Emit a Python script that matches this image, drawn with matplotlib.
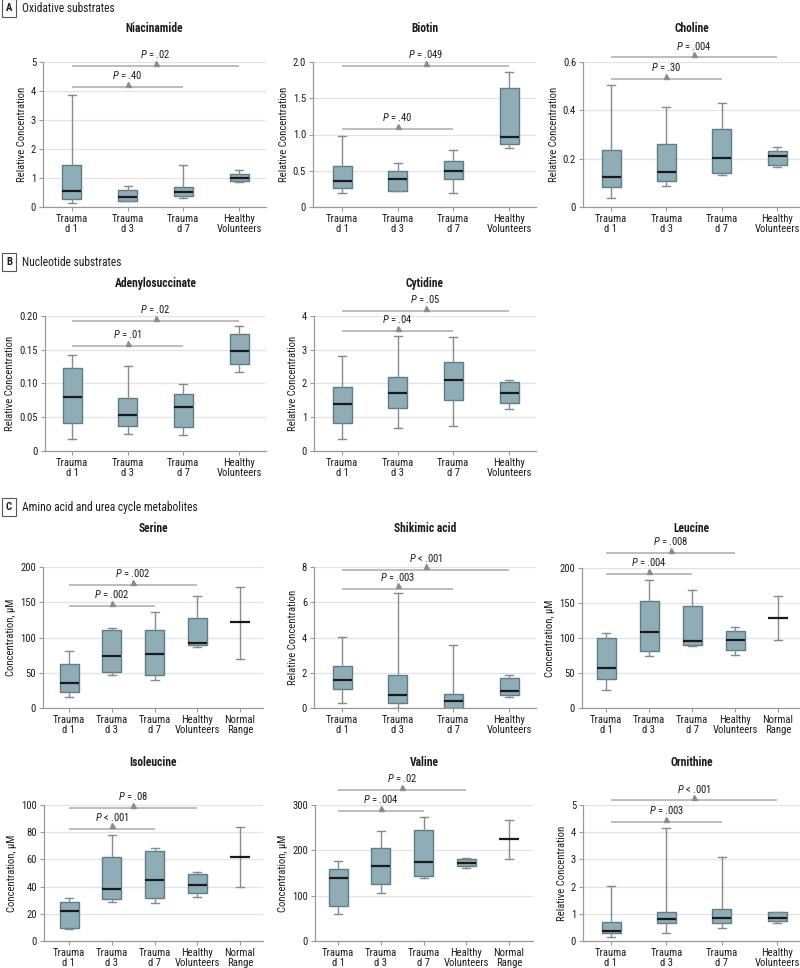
import matplotlib
matplotlib.use("Agg")
import matplotlib.pyplot as plt
from matplotlib import font_manager as fm
from matplotlib.transforms import ScaledTranslation

# --- data: [whisker low, q1, median, q3, whisker high] per group ---
groups4 = ["Trauma\nd 1", "Trauma\nd 3", "Trauma\nd 7", "Healthy\nVolunteers"]
groups5 = groups4 + ["Normal\nRange"]

niacinamide = [[0.13, 0.29, 0.55, 1.46, 3.86], [0.20, 0.22, 0.33, 0.59, 0.74],
               [0.30, 0.38, 0.52, 0.69, 1.45], [0.85, 0.91, 1.01, 1.15, 1.26]]
biotin = [[0.19, 0.26, 0.36, 0.57, 0.98], [0.22, 0.22, 0.38, 0.49, 0.61],
          [0.19, 0.39, 0.50, 0.63, 0.79], [0.82, 0.87, 0.97, 1.64, 1.86]]
choline = [[0.036, 0.081, 0.124, 0.236, 0.506], [0.086, 0.108, 0.146, 0.262, 0.414],
           [0.132, 0.142, 0.203, 0.324, 0.43], [0.164, 0.175, 0.212, 0.232, 0.248]]
adenylosuccinate = [[0.0173, 0.042, 0.0805, 0.123, 0.1427], [0.0257, 0.0375, 0.054, 0.078, 0.126],
                    [0.0232, 0.0356, 0.065, 0.084, 0.099], [0.1165, 0.129, 0.1486, 0.174, 0.1847]]
cytidine = [[0.36, 0.84, 1.39, 1.90, 2.80], [0.67, 1.26, 1.72, 2.18, 3.41],
            [0.74, 1.51, 2.09, 2.64, 3.39], [1.23, 1.42, 1.72, 2.04, 2.11]]
serine = [[15.6, 23.2, 35.9, 62.9, 80.9], [46.8, 50.6, 73.8, 110.2, 113.5],
          [39.7, 47.3, 76.6, 110.6, 136.2], [87.0, 89.4, 91.7, 128.1, 158.4]]
serine_normal = [69.5, 121.5, 171.6]
shikimic = [[0.26, 1.10, 1.60, 2.41, 4.03], [0.0, 0.30, 0.73, 1.87, 6.53],
            [0.0, 0.02, 0.37, 0.82, 3.60], [0.65, 0.76, 0.97, 1.70, 1.88]]
leucine = [[26.4, 41.7, 57.6, 99.3, 107.4], [74.8, 82.0, 108.9, 153.0, 182.3],
           [88.2, 90.6, 95.9, 145.3, 168.8], [75.3, 83.5, 97.4, 110.3, 115.1]]
leucine_normal = [96.9, 128.0, 159.7]
isoleucine = [[8.8, 9.5, 22.2, 28.9, 31.3], [28.9, 31.1, 38.1, 62.1, 78.0],
              [28.1, 31.8, 45.0, 66.3, 68.5], [32.5, 35.5, 41.3, 49.4, 50.4]]
isoleucine_normal = [39.9, 61.4, 83.6]
valine = [[58.8, 78.0, 138.2, 158.0, 176.5], [105.9, 126.5, 166.2, 205.1, 242.6],
          [139.7, 143.4, 174.3, 245.6, 273.5], [161.8, 164.7, 172.8, 180.9, 183.8]]
valine_normal = [180.1, 224.3, 266.2]
ornithine = [[0.16, 0.28, 0.36, 0.70, 2.01], [0.28, 0.65, 0.81, 1.07, 4.16],
             [0.49, 0.65, 0.84, 1.19, 3.09], [0.65, 0.73, 0.84, 1.07, 1.08]]

# P values: first bracket d1-d7, second bracket d1-healthy
niacinamide_p = ["= .40", "= .02"];   niacinamide_p_at = [4.14, 4.86]
biotin_p = ["= .40", "= .049"];       biotin_p_at = [1.076, 1.945]
choline_p = ["= .30", "= .004"];      choline_p_at = [0.53, 0.619]
adenylo_p = ["= .01", "= .02"];       adenylo_p_at = [0.156, 0.1926]
cytidine_p = ["= .04", "= .05"];      cytidine_p_at = [3.56, 4.15]
serine_p = ["= .002", "= .002"];      serine_p_at = [144.7, 174.5]
shikimic_p = ["= .003", "< .001"];    shikimic_p_at = [6.77, 7.85]
leucine_p = ["= .004", "= .008"];     leucine_p_at = [191.4, 221.6]
isoleucine_p = ["< .001", "= .08"];   isoleucine_p_at = [82.7, 98.0]
valine_p = ["= .004", "= .02"];       valine_p_at = [287.4, 333.0]
ornithine_p = ["= .003", "< .001"];   ornithine_p_at = [4.38, 5.17]

# --- fonts: prefer a narrow sans ---
ttf = fm.fontManager.ttflist
names = {f.name for f in ttf}
family, stretch, fs = None, "normal", 7.7
for cand in ["Roboto Condensed", "Liberation Sans Narrow", "Open Sans Condensed",
             "Noto Sans Condensed", "DejaVu Sans Condensed"]:
    if cand in names:
        family = cand
        break
if family is None:
    for base in ["Noto Sans", "DejaVu Sans", "Open Sans"]:
        if any(f.name == base and f.stretch in ("condensed", "semi-condensed") for f in ttf):
            family, stretch = base, "condensed"
            break
if family is None:
    family, fs = "Roboto", 7.0

plt.rcParams["font.family"] = [family, "DejaVu Sans"]
plt.rcParams["font.stretch"] = stretch
plt.rcParams["font.size"] = fs
plt.rcParams["mathtext.fontset"] = "custom"
plt.rcParams["mathtext.it"] = family + ":italic"
plt.rcParams["mathtext.rm"] = family

W, H = 800, 968
fig = plt.figure(figsize=(W / 100, H / 100), dpi=100)

BOX = "#8fadb7"
EDGE = "#5e7d88"
WHISK = "#8a8a8a"
BRACK = "#b8b8b8"
TXT = "#1c1c1c"


def panel(left, right, top, bottom, c0, sp, title, title_y, rows, normal,
          ticks, ticklabels, ylabel, plabels, plevels):
    ax = fig.add_axes([left / W, 1 - bottom / H, (right - left) / W, (bottom - top) / H])
    ax.set_xlim((left - c0) / sp, (right - c0) / sp)
    ax.set_ylim(ticks[0], ticks[-1])
    bw, cw = 19 / sp, 8 / sp
    stats = [dict(whislo=r[0], q1=r[1], med=r[2], q3=r[3], whishi=r[4]) for r in rows]
    ax.bxp(stats, positions=range(len(rows)), widths=bw, capwidths=cw,
           patch_artist=True, showfliers=False, manage_ticks=False,
           boxprops=dict(facecolor=BOX, edgecolor=EDGE, linewidth=1.0),
           medianprops=dict(color="#1a1a1a", linewidth=1.6),
           whiskerprops=dict(color=WHISK, linewidth=1.0),
           capprops=dict(color=WHISK, linewidth=1.0))
    labels = groups4
    if normal is not None:
        labels = groups5
        ns = [dict(whislo=normal[0], q1=normal[1], med=normal[1], q3=normal[1], whishi=normal[2])]
        ax.bxp(ns, positions=[4], widths=20 / sp, capwidths=cw, showbox=False,
               showfliers=False, manage_ticks=False,
               medianprops=dict(color="#1a1a1a", linewidth=1.6),
               whiskerprops=dict(color=WHISK, linewidth=1.0),
               capprops=dict(color=WHISK, linewidth=1.0))
    ax.set_xticks(range(len(labels)))
    ax.set_xticklabels(labels, color=TXT, linespacing=1.0)
    ax.set_yticks(ticks)
    ax.set_yticklabels(ticklabels, color=TXT)
    ax.tick_params(axis="both", colors="#9a9a9a", labelcolor=TXT, length=3, width=0.8, pad=2)
    ax.yaxis.grid(True, color="#e3e3e3", linewidth=0.9)
    ax.set_axisbelow(True)
    for s in ["top", "right"]:
        ax.spines[s].set_visible(False)
    for s in ["left", "bottom"]:
        ax.spines[s].set_color("#9a9a9a")
        ax.spines[s].set_linewidth(0.9)
    ax.set_ylabel(ylabel, color=TXT, labelpad=3)
    fig.text((left + right) / 2 / W, 1 - title_y / H, title, ha="center", va="center",
             fontweight="bold", color=TXT, fontsize=fs + 0.6)
    # significance brackets
    up_tri = ax.transData + ScaledTranslation(0, 2.3 / 72, fig.dpi_scale_trans)
    for end, lab, lev in zip([2, 3], plabels, plevels):
        ax.plot([0, end], [lev, lev], color=BRACK, linewidth=1.3, clip_on=False,
                solid_capstyle="butt")
        ax.plot([end / 2], [lev], marker="^", ms=3.6, color="#8c8c8c", clip_on=False,
                transform=up_tri, linestyle="none")
        ax.annotate("$P$ " + lab, xy=(end / 2, lev), xytext=(0, 5.5), textcoords="offset points",
                    ha="center", va="baseline", color=TXT, annotation_clip=False)
    return ax


def section(y, letter, text):
    fig.text(9 / W, 1 - y / H, letter, ha="center", va="center", fontweight="bold",
             color=TXT, fontsize=fs,
             bbox=dict(boxstyle="square,pad=0.35", facecolor="white", edgecolor="#555555",
                       linewidth=0.8))
    fig.text(22 / W, 1 - y / H, text, ha="left", va="center", color=TXT, fontsize=fs + 0.6)


RC = "Relative Concentration"
UM = "Concentration, μM"

section(8, "A", "Oxidative substrates")
panel(43, 266, 62, 207, 72, 55.67, "Niacinamide", 29, niacinamide, None,
      [0, 1, 2, 3, 4, 5], ["0", "1", "2", "3", "4", "5"], RC, niacinamide_p, niacinamide_p_at)
panel(313, 536, 62, 207, 342, 55.67, "Biotin", 29, biotin, None,
      [0, 0.5, 1.0, 1.5, 2.0], ["0", "0.5", "1.0", "1.5", "2.0"], RC, biotin_p, biotin_p_at)
panel(583, 800, 62, 207, 611, 55.4, "Choline", 29, choline, None,
      [0, 0.2, 0.4, 0.6], ["0", "0.2", "0.4", "0.6"], RC, choline_p, choline_p_at)

section(262, "B", "Nucleotide substrates")
panel(45, 266, 316, 451, 72, 55.67, "Adenylosuccinate", 283, adenylosuccinate, None,
      [0, 0.05, 0.10, 0.15, 0.20], ["0", "0.05", "0.10", "0.15", "0.20"], RC,
      adenylo_p, adenylo_p_at)
panel(314, 536, 316, 451, 342, 55.67, "Cytidine", 283, cytidine, None,
      [0, 1, 2, 3, 4], ["0", "1", "2", "3", "4"], RC, cytidine_p, cytidine_p_at)

section(507, "C", "Amino acid and urea cycle metabolites")
panel(43, 263, 567, 708, 69, 42.75, "Serine", 528, serine, serine_normal,
      [0, 50, 100, 150, 200], ["0", "50", "100", "150", "200"], UM, serine_p, serine_p_at)
panel(314, 536, 567, 708, 342, 55.67, "Shikimic acid", 528, shikimic, None,
      [0, 2, 4, 6, 8], ["0", "2", "4", "6", "8"], RC, shikimic_p, shikimic_p_at)
panel(582, 800, 568, 708, 606, 43.0, "Leucine", 528, leucine, leucine_normal,
      [0, 50, 100, 150, 200], ["0", "50", "100", "150", "200"], UM, leucine_p, leucine_p_at)

panel(44, 263, 805, 941, 69, 42.75, "Isoleucine", 762, isoleucine, isoleucine_normal,
      [0, 20, 40, 60, 80, 100], ["0", "20", "40", "60", "80", "100"], UM,
      isoleucine_p, isoleucine_p_at)
panel(315, 533, 805, 941, 338, 42.75, "Valine", 762, valine, valine_normal,
      [0, 100, 200, 300], ["0", "100", "200", "300"], UM, valine_p, valine_p_at)
panel(583, 800, 805, 941, 611, 55.4, "Ornithine", 762, ornithine, None,
      [0, 1, 2, 3, 4, 5], ["0", "1", "2", "3", "4", "5"], RC, ornithine_p, ornithine_p_at)

fig.savefig("out.png", dpi=100, facecolor="white")
